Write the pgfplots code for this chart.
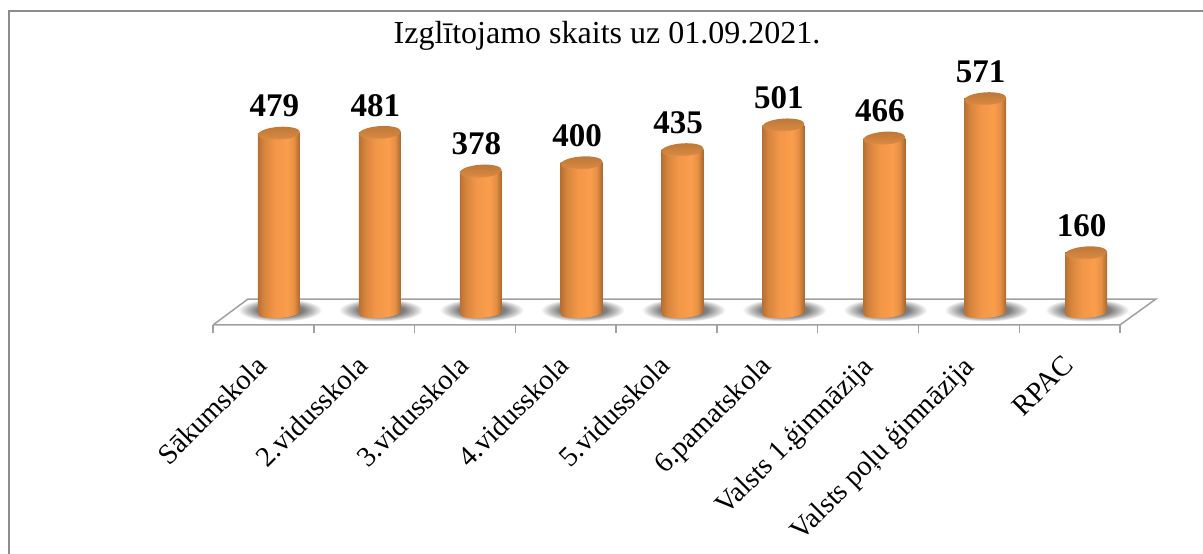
\documentclass[border=0pt]{standalone}
\usepackage{pgfplots}
\usepackage{pgfplotstable}
\pgfplotsset{compat=1.18}
\usepackage{fontspec}
\setmainfont{Liberation Serif}
\definecolor{framegray}{HTML}{8C8C8C}
\definecolor{floorgray}{HTML}{A0A0A0}
\pgfdeclarehorizontalshading{cyl}{100bp}{rgb(0bp)=(0.72,0.44,0.20); rgb(25bp)=(0.72,0.44,0.20); rgb(32bp)=(0.84,0.52,0.24); rgb(45bp)=(0.95,0.59,0.28); rgb(60bp)=(0.98,0.62,0.30); rgb(68bp)=(0.90,0.56,0.27); rgb(75bp)=(0.66,0.40,0.18); rgb(100bp)=(0.66,0.40,0.18)}
\pgfdeclareverticalshading{captop}{100bp}{rgb(0bp)=(0.96,0.62,0.32); rgb(25bp)=(0.96,0.62,0.32); rgb(35bp)=(0.84,0.53,0.25); rgb(75bp)=(0.74,0.47,0.22); rgb(100bp)=(0.74,0.47,0.22)}
\pgfdeclareradialshading{floorshadow}{\pgfpoint{0bp}{0bp}}{rgb(0bp)=(0.42,0.42,0.42); rgb(14bp)=(0.50,0.50,0.50); rgb(20bp)=(0.76,0.76,0.76); rgb(25bp)=(1,1,1); rgb(50bp)=(1,1,1)}
\pgfdeclareplotmark{cylshadow}{\pgfpathellipse{\pgfqpoint{1pt}{3pt}}{\pgfqpoint{42pt}{0pt}}{\pgfqpoint{0pt}{11.5pt}}\pgfshadepath{floorshadow}{0}\pgfusepath{discard}}
\pgfdeclareplotmark{cylbase}{\pgftransformrotate{4}\pgfpathellipse{\pgfpointorigin}{\pgfqpoint{21pt}{0pt}}{\pgfqpoint{0pt}{5pt}}\pgfshadepath{cyl}{0}\pgfusepath{discard}}
\pgfdeclareplotmark{cylcap}{\pgftransformrotate{4}\pgfpathellipse{\pgfpointorigin}{\pgfqpoint{21pt}{0pt}}{\pgfqpoint{0pt}{6.5pt}}\pgfshadepath{captop}{0}\pgfusepath{discard}}
\pgfplotstableread{
x v z
0 479 0
1 481 0
2 378 0
3 400 0
4 435 0
5 501 0
6 466 0
7 571 0
8 160 0
}\schools
\pgfplotstableread{
x y
-0.654 -32
8.335 -32
8.692 37.3
-0.307 37.3
-0.654 -32
}\floorplate
\pgfplotsset{cylbar/.style={ybar, bar width=42pt, draw=none, shading=cyl},
  commonaxis/.style={scale only axis, width=1203pt, height=554pt, at={(0,0)}, anchor=south west,
  axis line style={draw=none}, clip=false,
  xmin=-2.765, xmax=9.158, ymin=-642.67, ymax=834.67,
  ytick=\empty, major tick length=0pt, unbounded coords=jump}}
\begin{document}
\begin{tikzpicture}
\useasboundingbox (0,0) rectangle (1203pt,554pt);
\begin{axis}[commonaxis, xtick=\empty]
\draw[framegray, line width=1.8pt] (rel axis cs:0.0075,0) -- (rel axis cs:0.0075,0.98) -- (rel axis cs:1,0.98);
\addplot[floorgray, line width=1.5pt, fill=white] table[x=x,y=y] {\floorplate};
\addplot[floorgray, line width=1.5pt] coordinates {
(-0.654,-32) (-0.654,-53) (0,nan)
(0.345,-32) (0.345,-53) (0,nan)
(1.344,-32) (1.344,-53) (0,nan)
(2.343,-32) (2.343,-53) (0,nan)
(3.342,-32) (3.342,-53) (0,nan)
(4.341,-32) (4.341,-53) (0,nan)
(5.340,-32) (5.340,-53) (0,nan)
(6.339,-32) (6.339,-53) (0,nan)
(7.338,-32) (7.338,-53) (0,nan)
(8.335,-32) (8.335,-53)
};
\addplot[only marks, mark=cylshadow] table[x=x,y=z] {\schools};
\end{axis}
\begin{axis}[commonaxis, 
  xtick={0,...,8},
  xticklabels={Sākumskola,2.vidusskola,3.vidusskola,4.vidusskola,5.vidusskola,6.pamatskola,Valsts 1.ģimnāzija,Valsts poļu ģimnāzija,RPAC},
  xticklabel style={font=\fontsize{28.5}{29}\selectfont, rotate=45, anchor=north east, inner sep=0pt, xshift=-20.5pt, yshift=14.5pt},
  xticklabel shift=-205pt,
  title={Izglītojamo skaits uz 01.09.2021.},
  title style={at={(rel axis cs:0.5046,0.924)}, anchor=center, font=\fontsize{32}{32}\selectfont, inner sep=0pt},
]
\addplot[only marks, mark=cylbase] table[x=x,y=z] {\schools};
\addplot[cylbar] coordinates {(0,479)};
\addplot[cylbar] coordinates {(1,481)};
\addplot[cylbar] coordinates {(2,378)};
\addplot[cylbar] coordinates {(3,400)};
\addplot[cylbar] coordinates {(4,435)};
\addplot[cylbar] coordinates {(5,501)};
\addplot[cylbar] coordinates {(6,466)};
\addplot[cylbar] coordinates {(7,571)};
\addplot[cylbar] coordinates {(8,160)};
\addplot[only marks, mark=cylcap, point meta=explicit symbolic, nodes near coords, nodes near coords style={font=\fontsize{33}{33}\selectfont\bfseries, anchor=south, yshift=16pt, xshift=-4.5pt, text=black, inner sep=0pt}] table[x=x,y=v,meta=v] {\schools};
\end{axis}
\end{tikzpicture}
\end{document}
